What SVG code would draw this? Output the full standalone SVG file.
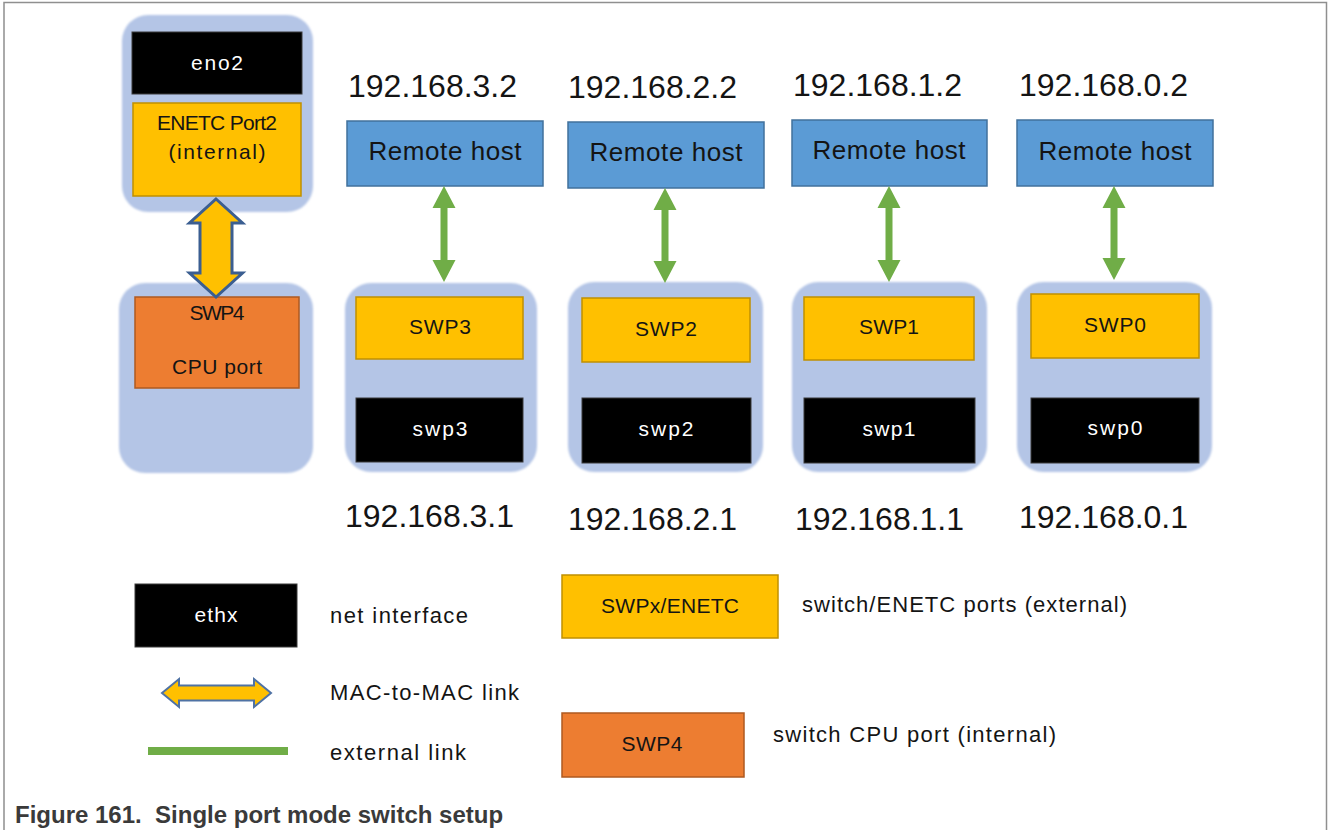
<svg xmlns="http://www.w3.org/2000/svg" width="1328" height="830" viewBox="0 0 1328 830">
  <defs>
    <filter id="soft" x="-5%" y="-5%" width="110%" height="110%">
      <feGaussianBlur stdDeviation="1.2"/>
    </filter>
  </defs>
  <style>
    .frame{fill:none;stroke:#8f8f8f;stroke-width:1.5}
    .cont{fill:#B4C5E6;filter:url(#soft)}
    .host{fill:#5B9BD5;stroke:#41719C;stroke-width:1.5}
    .port{fill:#FFC000;stroke:#C09000;stroke-width:1.5}
    .cpu{fill:#ED7D31;stroke:#AE5A21;stroke-width:1.5}
    .iface{fill:#000;stroke:#3a3a3a;stroke-width:1}
    .green{fill:#70AD47}
    .mac{fill:#FFC000;stroke:#3B5E91;stroke-width:3;stroke-linejoin:miter}
    .macleg{fill:#FFC000;stroke:#4F72A4;stroke-width:2;stroke-linejoin:miter}
    text{font-family:"Liberation Sans",Arial,sans-serif;fill:#141414}
    .c{text-anchor:middle;font-size:21px}
    .w{fill:#ffffff}
    .ip{font-size:32px}
    .rh{text-anchor:middle;font-size:26px}
    .leg{font-size:22px}
    .cap{font-size:24px;font-weight:bold;fill:#3a3a3a}
  </style>

  <path class="frame" d="M4,830 V2.5 H1326.5 V830"/>

  <!-- Left: host ENETC -->
  <g id="enetc-host">
    <rect class="cont" x="122" y="15" width="191" height="197" rx="26"/>
    <rect class="iface" x="132" y="32" width="170" height="62"/>
    <text class="c w" x="217" y="70" textLength="52" lengthAdjust="spacing">eno2</text>
    <rect class="port" x="133" y="103" width="168" height="93"/>
    <text class="c" x="217" y="130" textLength="120" lengthAdjust="spacing">ENETC Port2</text>
    <text class="c" x="217" y="159" textLength="97" lengthAdjust="spacing">(internal)</text>
  </g>

  <g id="cpu-port">
    <rect class="cont" x="119" y="283" width="194" height="190" rx="26"/>
    <rect class="cpu" x="135" y="297" width="164" height="91"/>
    <text class="c" x="217" y="320" textLength="55" lengthAdjust="spacing">SWP4</text>
    <text class="c" x="217" y="374" textLength="90" lengthAdjust="spacing">CPU port</text>
  </g>

  <!-- Column 3 -->
  <g id="host3">
    <text class="ip" x="348" y="97">192.168.3.2</text>
    <rect class="host" x="347" y="121" width="196" height="65"/>
    <text class="rh" x="445" y="160" textLength="153" lengthAdjust="spacing">Remote host</text>
  </g>
  <g id="swp3">
    <rect class="cont" x="345" y="283" width="192" height="189" rx="26"/>
    <rect class="port" x="356" y="297" width="167" height="62"/>
    <text class="c" x="440" y="334" textLength="62" lengthAdjust="spacing">SWP3</text>
    <rect class="iface" x="356" y="398" width="167" height="64"/>
    <text class="c w" x="440" y="436" textLength="55" lengthAdjust="spacing">swp3</text>
    <text class="ip" x="345" y="527">192.168.3.1</text>
  </g>

  <!-- Column 2 -->
  <g id="host2">
    <text class="ip" x="568" y="98">192.168.2.2</text>
    <rect class="host" x="568" y="122" width="196" height="66"/>
    <text class="rh" x="666" y="161" textLength="153" lengthAdjust="spacing">Remote host</text>
  </g>
  <g id="swp2">
    <rect class="cont" x="568" y="282" width="195" height="190" rx="26"/>
    <rect class="port" x="582" y="298" width="168" height="64"/>
    <text class="c" x="666" y="336" textLength="62" lengthAdjust="spacing">SWP2</text>
    <rect class="iface" x="582" y="398" width="169" height="65"/>
    <text class="c w" x="666" y="436" textLength="55" lengthAdjust="spacing">swp2</text>
    <text class="ip" x="568" y="530">192.168.2.1</text>
  </g>

  <!-- Column 1 -->
  <g id="host1">
    <text class="ip" x="793" y="96">192.168.1.2</text>
    <rect class="host" x="792" y="120" width="195" height="66"/>
    <text class="rh" x="889" y="159" textLength="153" lengthAdjust="spacing">Remote host</text>
  </g>
  <g id="swp1">
    <rect class="cont" x="792" y="282" width="195" height="190" rx="26"/>
    <rect class="port" x="804" y="297" width="170" height="63"/>
    <text class="c" x="889" y="334" textLength="60" lengthAdjust="spacing">SWP1</text>
    <rect class="iface" x="804" y="398" width="171" height="65"/>
    <text class="c w" x="889" y="436" textLength="53" lengthAdjust="spacing">swp1</text>
    <text class="ip" x="795" y="530">192.168.1.1</text>
  </g>

  <!-- Column 0 -->
  <g id="host0">
    <text class="ip" x="1019" y="96">192.168.0.2</text>
    <rect class="host" x="1017" y="120" width="196" height="66"/>
    <text class="rh" x="1115" y="160" textLength="153" lengthAdjust="spacing">Remote host</text>
  </g>
  <g id="swp0">
    <rect class="cont" x="1017" y="282" width="195" height="190" rx="26"/>
    <rect class="port" x="1031" y="294" width="168" height="64"/>
    <text class="c" x="1115" y="332" textLength="62" lengthAdjust="spacing">SWP0</text>
    <rect class="iface" x="1031" y="398" width="168" height="65"/>
    <text class="c w" x="1115" y="435" textLength="55" lengthAdjust="spacing">swp0</text>
    <text class="ip" x="1019" y="528">192.168.0.1</text>
  </g>

  <!-- Connectors -->
  <g id="connectors">
    <polygon class="mac" points="216,199 242.5,223 232,223 232,273 242.5,273 216,297 189.5,273 200,273 200,223 189.5,223"/>
    <polygon class="green" points="444,186 455.5,208 447.5,208 447.5,260 455.5,260 444,282 432.5,260 440.5,260 440.5,208 432.5,208"/>
    <polygon class="green" points="665,188 676.5,210 668.5,210 668.5,261 676.5,261 665,283 653.5,261 661.5,261 661.5,210 653.5,210"/>
    <polygon class="green" points="889,186 900.5,208 892.5,208 892.5,260 900.5,260 889,282 877.5,260 885.5,260 885.5,208 877.5,208"/>
    <polygon class="green" points="1114,186 1125.5,208 1117.5,208 1117.5,258 1125.5,258 1114,280 1102.5,258 1110.5,258 1110.5,208 1102.5,208"/>
  </g>

  <!-- Legend -->
  <g id="legend-ethx">
    <rect class="iface" x="135" y="584" width="162" height="63"/>
    <text class="c w" x="216" y="622" textLength="43" lengthAdjust="spacing">ethx</text>
    <text class="leg" x="330" y="623" textLength="138" lengthAdjust="spacing">net interface</text>
  </g>
  <g id="legend-mac">
    <polygon class="macleg" points="162,693 179,679 179,685.5 254,685.5 254,679 271,693 254,707 254,700.5 179,700.5 179,707"/>
    <text class="leg" x="330" y="700" textLength="189" lengthAdjust="spacing">MAC-to-MAC link</text>
  </g>
  <g id="legend-ext">
    <rect class="green" x="148" y="747" width="140" height="8"/>
    <text class="leg" x="330" y="760" textLength="136" lengthAdjust="spacing">external link</text>
  </g>
  <g id="legend-port">
    <rect class="port" x="562" y="575" width="216" height="63"/>
    <text class="c" x="670" y="613" textLength="138" lengthAdjust="spacing">SWPx/ENETC</text>
    <text class="leg" x="802" y="612" textLength="325" lengthAdjust="spacing">switch/ENETC ports (external)</text>
  </g>
  <g id="legend-cpu">
    <rect class="cpu" x="562" y="713" width="182" height="64"/>
    <text class="c" x="652" y="751" textLength="61" lengthAdjust="spacing">SWP4</text>
    <text class="leg" x="773" y="742" textLength="283" lengthAdjust="spacing">switch CPU port (internal)</text>
  </g>

  <text class="cap" x="15" y="823" xml:space="preserve">Figure 161.  Single port mode switch setup</text>
</svg>
